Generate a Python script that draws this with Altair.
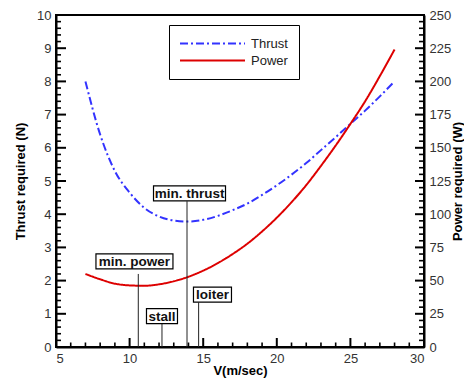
import altair as alt
import pandas as pd

# ---- data ----
V = [7, 8, 9, 10, 11, 12, 13, 14, 15, 16, 17, 18, 19, 20, 21, 22, 23, 24, 25, 26, 27, 28]
thrust_N = [8.0, 6.4, 5.3, 4.65, 4.19, 3.93, 3.81, 3.78, 3.83, 3.95, 4.12, 4.32, 4.58,
            4.87, 5.19, 5.54, 5.93, 6.32, 6.72, 7.12, 7.55, 8.0]
power_W = [55, 51, 47.7, 46.4, 46.1, 47.2, 49.5, 52.9, 57.5, 63.2, 70, 77.8, 87, 97.4,
           109, 121.9, 136.4, 151.7, 168, 185, 204, 224]

x_labels = [5, 10, 15, 20, 25, 30]
y_labels = list(range(0, 11))
p_labels = list(range(0, 251, 25))
x_major = [10, 15, 20, 25]
x_minor = [v for v in range(6, 30) if v % 5 != 0]
y_major = list(range(1, 10))
y_minor = [i / 5 for i in range(1, 50) if i % 5 != 0]
p_major = list(range(25, 250, 25))
p_minor = [v for v in range(5, 250, 5) if v % 25 != 0]

marker_names = ["min. power", "stall", "min. thrust", "loiter"]
marker_V = [10.59, 12.2, 13.9, 14.69]
marker_top = [2.2, 0.71, 4.39, 1.34]
label_V = [10.33, 12.2, 14.07, 15.63]
label_y = [2.58, 0.93, 4.63, 1.58]

W, H = 368, 332
FONT = "Liberation Sans"
BLUE = "#3333ff"
RED = "#dd0000"

X0, X1, Y1, P1 = 5, 30, 10, 250
xs = alt.Scale(domain=[X0, X1], nice=False)
ys = alt.Scale(domain=[0, Y1], nice=False)
ps = alt.Scale(domain=[0, P1], nice=False)

axis_common = dict(tickSize=0, domainColor="black", domainWidth=2, grid=False,
                   labelFont=FONT, labelFontSize=13, labelColor="#333",
                   titleFont=FONT, titleFontSize=13, titleFontWeight="bold", titleColor="black")

curves = pd.DataFrame({
    "V": V * 2,
    "value": thrust_N + power_W,
    "series": ["Thrust"] * len(V) + ["Power"] * len(V),
})

color = alt.Color("series:N",
                  scale=alt.Scale(domain=["Thrust", "Power"], range=[BLUE, RED]),
                  legend=alt.Legend(orient="none", legendX=113, legendY=10, title=None,
                                    strokeColor="black", fillColor="white", padding=11,
                                    symbolType="M-5,0L5,0", symbolSize=169,
                                    symbolOffset=25, labelOffset=31,
                                    symbolStrokeWidth=2, labelFont=FONT, labelFontSize=13,
                                    labelColor="#222", rowPadding=2))
dash = alt.StrokeDash("series:N",
                      scale=alt.Scale(domain=["Thrust", "Power"], range=[[8, 3, 2, 3], [1, 0]]),
                      legend=None)

thrust = alt.Chart(curves).transform_filter(alt.datum.series == "Thrust").mark_line(
    strokeWidth=2, interpolate="monotone").encode(
    x=alt.X("V:Q", scale=xs, axis=alt.Axis(values=x_labels, title="V(m/sec)", labelPadding=5,
                                            titleY=23, titleBaseline="middle", orient="bottom",
                                            **axis_common)),
    y=alt.Y("value:Q", scale=ys, axis=alt.Axis(values=y_labels, title="Thrust required (N)",
                                                orient="left", labelPadding=5, titleX=-36,
                                                titleY=H / 2, titleAngle=270,
                                                titleBaseline="middle", titleAlign="center",
                                                **axis_common)),
    color=color, strokeDash=dash)

power = alt.Chart(curves).transform_filter(alt.datum.series == "Power").mark_line(
    strokeWidth=2, interpolate="monotone").encode(
    x=alt.X("V:Q", scale=xs, axis=None),
    y=alt.Y("value:Q", scale=ps, axis=alt.Axis(values=p_labels, title="Power required (W)",
                                                orient="right", labelPadding=5,
                                                titleX=33, titleY=H / 2, titleAngle=270,
                                                titleBaseline="middle", titleAlign="center",
                                                **axis_common)),
    color=color, strokeDash=dash)


# ---- inward tick marks (pixel lengths converted to data units) ----
def px_x(p):
    return p * (X1 - X0) / W


def px_y(p):
    return p * Y1 / H


xt = pd.DataFrame({
    "kind": ["major"] * len(x_major) + ["minor"] * len(x_minor),
    "pos": x_major + x_minor,
    "len": [px_y(9)] * len(x_major) + [px_y(4.5)] * len(x_minor),
})
lt = pd.DataFrame({
    "kind": ["major"] * len(y_major) + ["minor"] * len(y_minor),
    "t": y_major + y_minor,
    "xe": [X0 + px_x(10)] * len(y_major) + [X0 + px_x(5)] * len(y_minor),
})
rt = pd.DataFrame({
    "kind": ["major"] * len(p_major) + ["minor"] * len(p_minor),
    "t": p_major + p_minor,
    "xe": [X1 - px_x(9)] * len(p_major) + [X1 - px_x(5)] * len(p_minor),
})

tick_layers = []
for kind, sw in [("major", 2), ("minor", 1.6)]:
    tick_layers.append(
        alt.Chart(xt).transform_filter(alt.datum.kind == kind).mark_rule(
            color="black", strokeWidth=sw).encode(
            x=alt.X("pos:Q", scale=xs, axis=None),
            y=alt.Y("len:Q", scale=ys, axis=None), y2=alt.datum(0)))
    tick_layers.append(
        alt.Chart(lt).transform_filter(alt.datum.kind == kind).mark_rule(
            color="black", strokeWidth=sw).encode(
            x=alt.X("xe:Q", scale=xs, axis=None), x2=alt.datum(X0),
            y=alt.Y("t:Q", scale=ys, axis=None)))
    tick_layers.append(
        alt.Chart(rt).transform_filter(alt.datum.kind == kind).mark_rule(
            color="black", strokeWidth=sw).encode(
            x=alt.X("xe:Q", scale=xs, axis=None), x2=alt.datum(X1),
            y=alt.Y("t:Q", scale=ps, axis=None)))

markers = pd.DataFrame({"name": marker_names, "V": marker_V, "top": marker_top,
                        "lv": label_V, "ly": label_y})

marker_lines = alt.Chart(markers).mark_rule(color="#222", strokeWidth=1).encode(
    x=alt.X("V:Q", scale=xs, axis=None),
    y=alt.Y("top:Q", scale=ys, axis=None), y2=alt.datum(0))

box_w = {"min. power": 77, "stall": 31, "min. thrust": 72, "loiter": 38}
boxes = []
for nm in marker_names:
    w = box_w[nm]
    boxes.append(
        alt.Chart(markers).transform_filter(alt.datum.name == nm).mark_rect(
            fill="white", stroke="black", strokeWidth=1.2,
            xOffset=-w / 2, x2Offset=w / 2, yOffset=-7.5, y2Offset=7.5).encode(
            x=alt.X("lv:Q", scale=xs, axis=None), x2="lv:Q",
            y=alt.Y("ly:Q", scale=ys, axis=None), y2="ly:Q"))

labels = alt.Chart(markers).mark_text(font=FONT, fontSize=13.5, fontWeight="bold",
                                      color="#111", baseline="middle", align="center",
                                      dy=0.5).encode(
    x=alt.X("lv:Q", scale=xs, axis=None),
    y=alt.Y("ly:Q", scale=ys, axis=None), text="name:N")

chart = alt.layer(
    thrust, power,
    marker_lines, *tick_layers,
    *boxes, labels,
).resolve_scale(y="independent").resolve_axis(x="independent").properties(
    width=W, height=H, autosize=alt.AutoSizeParams(type="none"),
    padding={"left": 48, "top": 7, "right": 40, "bottom": 35},
    background="white",
).configure_view(stroke="black", strokeWidth=2)

chart.save("out.html", embed_options={"renderer": "svg", "actions": False})
